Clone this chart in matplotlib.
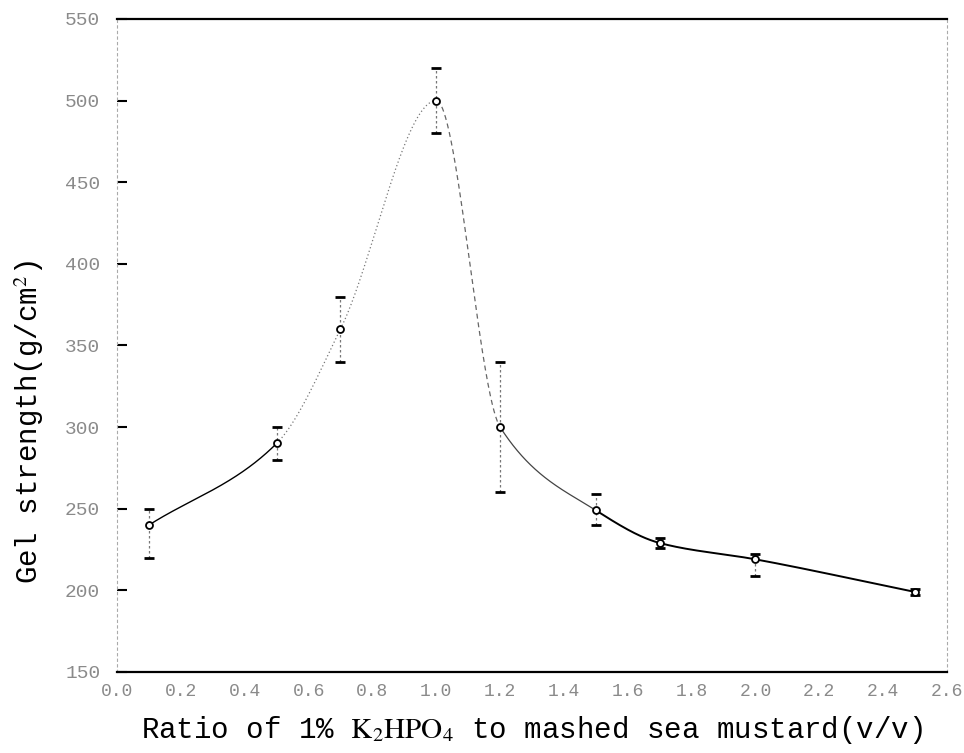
import matplotlib.pyplot as plt
import numpy as np

# Data
ratio = np.array([0.1, 0.5, 0.7, 1.0, 1.2, 1.5, 1.7, 2.0, 2.5])
gel = np.array([240, 290, 360, 500, 300, 249, 229, 219, 199])
err_hi = np.array([250, 300, 380, 520, 340, 259, 232, 222, 201])
err_lo = np.array([220, 280, 340, 480, 260, 240, 226, 209, 197])

yticks = [150, 200, 250, 300, 350, 400, 450, 500, 550]
xticks = [0.0, 0.2, 0.4, 0.6, 0.8, 1.0, 1.2, 1.4, 1.6, 1.8, 2.0, 2.2, 2.4, 2.6]


def pchip(x, y, xs):
    # shape preserving cubic through the points
    h = np.diff(x)
    d = np.diff(y) / h
    m = np.zeros_like(y, dtype=float)
    for k in range(1, len(x) - 1):
        if d[k - 1] * d[k] > 0:
            w1 = 2 * h[k] + h[k - 1]
            w2 = h[k] + 2 * h[k - 1]
            m[k] = (w1 + w2) / (w1 / d[k - 1] + w2 / d[k])
    m[0] = d[0]
    m[-1] = d[-1]
    idx = np.clip(np.searchsorted(x, xs) - 1, 0, len(x) - 2)
    t = (xs - x[idx]) / h[idx]
    h00 = 2 * t**3 - 3 * t**2 + 1
    h10 = t**3 - 2 * t**2 + t
    h01 = -2 * t**3 + 3 * t**2
    h11 = t**3 - t**2
    return h00 * y[idx] + h10 * h[idx] * m[idx] + h01 * y[idx + 1] + h11 * h[idx] * m[idx + 1]


plt.rcParams['mathtext.fontset'] = 'stix'

fig = plt.figure(figsize=(9.64, 7.53), dpi=100)
ax = fig.add_axes([0.1214, 0.1076, 0.861, 0.8672])

# smooth curve, drawn in pieces like the scanned original
pieces = [
    (0.1, 0.5, dict(color='k', lw=1.0, ls='-')),
    (0.5, 1.0, dict(color='#777777', lw=0.9, ls=(0, (1, 2)))),
    (1.0, 1.2, dict(color='#666666', lw=0.9, ls=(0, (4, 3)))),
    (1.2, 1.5, dict(color='#444444', lw=0.9, ls='-')),
    (1.5, 2.5, dict(color='k', lw=1.4, ls='-')),
]
for a, b, st in pieces:
    xs = np.linspace(a, b, 200)
    ax.plot(xs, pchip(ratio, gel, xs), **st)

# error bars
ax.vlines(ratio, err_lo, err_hi, colors='#777777', lw=0.9, linestyles=(0, (2, 2)))
ax.plot(ratio, err_hi, ls='none', marker='_', ms=7, mew=2, color='k')
ax.plot(ratio, err_lo, ls='none', marker='_', ms=7, mew=2, color='k')
ax.plot(ratio, gel, ls='none', marker='o', ms=5, mfc='white', mec='k', mew=1.3)

ax.set_xlim(0, 2.6)
ax.set_ylim(150, 550)
ax.set_xticks(xticks)
ax.set_xticklabels(['%.1f' % v for v in xticks])
ax.set_yticks(yticks)

for s in ['top', 'bottom']:
    ax.spines[s].set_linewidth(1.6)
    ax.spines[s].set_color('k')
for s in ['left', 'right']:
    ax.spines[s].set_linewidth(0.8)
    ax.spines[s].set_color('#aaaaaa')
    ax.spines[s].set_linestyle((0, (2, 3)))

ax.tick_params(axis='y', direction='in', length=7, width=1.5, color='k', pad=12,
               labelsize=14, labelcolor='#8a8a8a')
ax.tick_params(axis='x', length=0, pad=8, labelsize=13, labelcolor='#8a8a8a')
for lab in ax.get_xticklabels() + ax.get_yticklabels():
    lab.set_family('Liberation Mono')

ax.set_xlabel(r'Ratio of 1% $\mathrm{K_2HPO_4}$ to mashed sea mustard(v/v)',
              family='Liberation Mono', fontsize=21, labelpad=10)
ax.set_ylabel(r'Gel strength(g/cm$^2$)', family='Liberation Mono', fontsize=21)
ax.yaxis.set_label_coords(-0.086, 0.383)

fig.savefig('out.png', dpi=100)
